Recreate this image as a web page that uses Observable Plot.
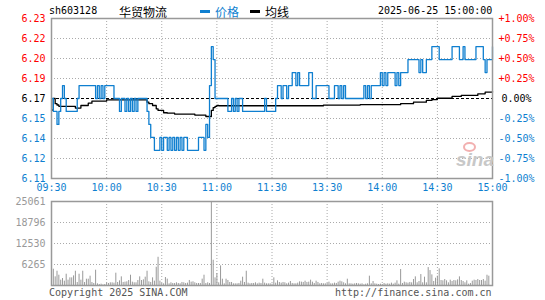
<!DOCTYPE html>
<html>
<head>
<meta charset="utf-8">
<script src="https://cdn.jsdelivr.net/npm/d3@7"></script>
<script src="https://cdn.jsdelivr.net/npm/@observablehq/plot@0.6"></script>
<style>
  body { margin: 0; background: #fff; }
  #wrap { position: relative; width: 545px; height: 300px; font-family: "DejaVu Sans Mono", monospace; font-size: 10px; }
  .abs { position: absolute; white-space: pre; line-height: 12px; }
</style>
</head>
<body>
<div id="wrap">
  <div class="abs" style="left:49px;top:5px;color:#000">sh603128</div>
  <div class="abs" style="left:119px;top:5px;color:#000;font-family:'Noto Sans CJK SC';font-size:12px;line-height:13px">华贸物流</div>
  <div class="abs" style="left:200px;top:10px;width:10px;height:3px;background:#0f7fd0"></div>
  <div class="abs" style="left:215px;top:5px;color:#0f7fd0;font-family:'Noto Sans CJK SC';font-size:12px;line-height:13px">价格</div>
  <div class="abs" style="left:250px;top:10px;width:10px;height:3px;background:#000"></div>
  <div class="abs" style="left:265px;top:5px;color:#000;font-family:'Noto Sans CJK SC';font-size:12px;line-height:13px">均线</div>
  <div class="abs" style="left:378px;top:5px;color:#000">2025-06-25 15:00:00</div>
  <div id="price" class="abs" style="left:0;top:0"></div>
  <div id="vol" class="abs" style="left:0;top:190px"></div>
  <div class="abs" style="left:463px;top:142px;width:9px;height:6px;border-radius:50%;border:2px solid #f2b0b0"></div>
  <div class="abs" style="left:456px;top:150px;color:#c8c8c8;font-family:'Liberation Sans';font-weight:bold;font-style:italic;font-size:19px;line-height:20px">sina</div>
  <div class="abs" style="left:49px;top:287px;color:#555">Copyright 2025 SINA.COM</div>
  <div class="abs" style="left:335px;top:287px;color:#555">http://finance.sina.com.cn</div>
</div>
<script>
const prevClose = 6.17;
const timeTicks = [0, 30, 60, 90, 120, 150, 180, 210, 240];
const timeLabels = ["09:30", "10:00", "10:30", "11:00", "11:30", "13:30", "14:00", "14:30", "15:00"];
const pctTicks = [-1, -0.75, -0.5, -0.25, 0, 0.25, 0.5, 0.75, 1];
const priceLabels = ["6.11", "6.12", "6.14", "6.15", "6.17", "6.19", "6.20", "6.22", "6.23"];
const pctLabels = ["-1.00%", "-0.75%", "-0.50%", "-0.25%", "0.00%", "+0.25%", "+0.50%", "+0.75%", "+1.00%"];
const volTicks = [6265.25, 12530.5, 18795.75, 25061];
const volLabels = ["6265", "12530", "18796", "25061"];

// price per minute (0 = 09:30 ... 240 = 15:00)
const price = [
  6.17,6.16,6.16,6.15,6.16,6.17,6.18,6.17,6.16,6.16,
  6.16,6.16,6.16,6.16,6.17,6.18,6.18,6.18,6.18,6.18,
  6.18,6.18,6.18,6.18,6.17,6.18,6.17,6.18,6.17,6.18,
  6.18,6.18,6.18,6.18,6.17,6.17,6.17,6.16,6.17,6.17,
  6.16,6.17,6.16,6.17,6.16,6.17,6.16,6.17,6.17,6.17,
  6.17,6.17,6.16,6.15,6.14,6.14,6.13,6.13,6.13,6.14,
  6.13,6.14,6.14,6.13,6.14,6.13,6.14,6.13,6.14,6.13,
  6.14,6.13,6.14,6.14,6.13,6.13,6.13,6.13,6.13,6.13,
  6.14,6.14,6.14,6.13,6.15,6.14,6.18,6.21,6.20,6.17,
  6.17,6.17,6.17,6.17,6.17,6.17,6.16,6.16,6.17,6.16,
  6.17,6.16,6.17,6.17,6.16,6.16,6.16,6.16,6.16,6.16,
  6.16,6.16,6.16,6.16,6.16,6.16,6.17,6.16,6.16,6.16,
  6.16,6.16,6.17,6.18,6.18,6.17,6.18,6.18,6.17,6.18,
  6.18,6.19,6.19,6.18,6.19,6.18,6.18,6.18,6.18,6.18,
  6.19,6.19,6.17,6.17,6.18,6.18,6.18,6.18,6.18,6.18,
  6.18,6.17,6.17,6.17,6.18,6.18,6.17,6.18,6.17,6.18,
  6.17,6.17,6.17,6.17,6.17,6.17,6.17,6.17,6.17,6.17,
  6.18,6.17,6.18,6.17,6.18,6.18,6.18,6.18,6.18,6.19,
  6.18,6.19,6.18,6.19,6.19,6.19,6.19,6.18,6.19,6.18,
  6.19,6.19,6.19,6.19,6.20,6.20,6.20,6.20,6.20,6.20,
  6.19,6.20,6.19,6.19,6.20,6.20,6.20,6.21,6.21,6.21,
  6.21,6.20,6.20,6.20,6.20,6.20,6.20,6.20,6.21,6.21,
  6.21,6.21,6.20,6.20,6.21,6.20,6.20,6.20,6.20,6.20,
  6.20,6.21,6.21,6.21,6.21,6.20,6.19,6.20,6.20,6.20,
  6.21
];

// average price line: [minute, value]
const avgLine = [
  [0,6.161],[1,6.170],[2,6.166],[3,6.165],[4,6.164],[12,6.164],[13,6.1626],[15,6.1626],
  [16,6.1646],[19,6.1646],[20,6.1664],[21,6.1664],[22,6.168],[29,6.168],[30,6.169],[51,6.169],
  [52,6.1672],[53,6.166],[55,6.1646],[57,6.162],[58,6.1608],[61,6.159],[63,6.1587],[67,6.158],
  [77,6.158],[78,6.1572],[83,6.1572],[84,6.1561],[86,6.1561],[87,6.1608],[88,6.163],[89,6.164],
  [90,6.1646],[91,6.1644],[147,6.1644],[148,6.1649],[168,6.1652],[190,6.166],[197,6.1672],
  [204,6.1685],[207,6.1692],[210,6.1702],[218,6.1716],[223,6.1724],[232,6.1736],[236,6.1749],[240,6.1754]
];

// volume per minute
const volume = [
  1290,4860,2580,4260,3070,1590,2080,1290,3370,1590,
  2280,2280,2870,4260,890,3370,1590,4260,890,1880,
  1880,2780,890,600,4560,500,300,400,200,300,
  700,600,800,800,700,3670,900,1390,2580,900,
  1000,1100,1490,3070,1000,800,800,1490,2580,1490,
  1690,2480,4260,1100,900,2280,1300,5450,8420,1300,
  600,500,2380,1900,500,800,600,600,800,600,
  500,900,800,600,700,1500,1000,1100,800,600,
  600,600,1900,3070,600,800,600,25061,7530,2280,
  3570,800,5850,1880,500,1880,1490,900,900,500,
  500,500,600,1290,2480,900,4260,700,500,600,
  600,800,500,700,600,1880,700,500,500,500,
  400,2280,700,1390,900,700,900,800,500,700,
  1190,600,500,500,700,1090,1000,900,1290,900,
  1000,1590,1000,600,1290,900,500,600,500,500,
  600,1000,500,500,700,600,1000,1290,1090,800,
  500,1880,500,500,400,500,600,500,400,500,
  200,400,500,2780,500,1190,500,400,300,400,
  300,600,400,500,400,700,400,700,1390,400,
  4760,600,1000,800,700,900,800,1780,2580,800,
  1190,3270,800,2480,800,5350,4460,3170,1190,2180,
  2780,4960,1490,1390,1780,1390,800,1590,1190,1490,
  1390,1680,2580,1490,1190,800,1390,400,600,1290,
  1590,1490,1780,1490,1490,1780,1290,3070,2780,0,
  0
];

const RED = "#ff0000", BLUE = "#0f7fd0", GRID = "#aaaaaa", FRAME = "#999999";
const pct = p => (p / prevClose - 1) * 100;
const priceData = price.map((p, i) => ({m: i, y: pct(p)}));
const avgData = avgLine.map(([m, p]) => ({m, y: pct(p)}));
const tickRows = pctTicks.map((k, i) => ({k, price: priceLabels[i], pct: pctLabels[i]}));
const timeRows = timeTicks.map((m, i) => ({m, label: timeLabels[i]}));
const innerMin = timeTicks.slice(1, -1);
const innerPct = pctTicks.filter(k => k !== 0 && Math.abs(k) !== 1);
const colorOf = k => k > 0 ? RED : (k < 0 ? BLUE : "#000");

const font = {fontFamily: "DejaVu Sans Mono, monospace", fontSize: 10};

const pricePlot = Plot.plot({
  width: 545, height: 192,
  marginLeft: 51, marginRight: 53, marginTop: 18, marginBottom: 14,
  x: {domain: [0, 240], axis: null},
  y: {domain: [-1, 1], axis: null},
  style: {background: "transparent", fontFamily: "DejaVu Sans Mono, monospace", fontSize: "10px"},
  marks: [
    Plot.ruleY(innerPct, {stroke: GRID, strokeDasharray: "1,2"}),
    Plot.ruleX(innerMin, {stroke: GRID, strokeDasharray: "1,2"}),
    Plot.ruleY([0], {stroke: "#000", strokeDasharray: "3,2"}),
    Plot.line(avgData, {x: "m", y: "y", stroke: "#000", strokeWidth: 1.3, curve: "step-after"}),
    Plot.line(priceData, {x: "m", y: "y", stroke: BLUE, strokeWidth: 1.3, curve: "step-after"}),
    Plot.frame({stroke: FRAME, strokeWidth: 1.5}),
    ...[RED, "#000", BLUE].map(c => Plot.text(tickRows.filter(d => colorOf(d.k) === c), {
      y: "k", text: "price", frameAnchor: "left", dx: -6, textAnchor: "end", fill: c, ...font
    })),
    ...[RED, "#000", BLUE].map(c => Plot.text(tickRows.filter(d => colorOf(d.k) === c), {
      y: "k", text: "pct", frameAnchor: "right", dx: c === "#000" ? 9 : 6, textAnchor: "start", fill: c, ...font
    })),
    Plot.text(timeRows, {x: "m", text: "label", frameAnchor: "bottom", dy: 9, lineAnchor: "middle", fill: BLUE, ...font})
  ]
});
document.getElementById("price").appendChild(pricePlot);

const volRows = volume.map((v, i) => ({m: i, v}));
const volTickRows = volTicks.map((v, i) => ({v, label: volLabels[i]}));
const volPlot = Plot.plot({
  width: 545, height: 100,
  marginLeft: 51, marginRight: 53, marginTop: 11, marginBottom: 5,
  x: {domain: [0, 240], axis: null},
  y: {domain: [0, 25061], axis: null},
  style: {background: "transparent", fontFamily: "DejaVu Sans Mono, monospace", fontSize: "10px"},
  marks: [
    Plot.ruleY(volTicks.slice(0, 3), {stroke: GRID, strokeDasharray: "1,2"}),
    Plot.ruleX(innerMin, {stroke: GRID, strokeDasharray: "1,2"}),
    Plot.ruleX(volRows.filter(d => d.v > 0), {x: "m", y1: 0, y2: "v", stroke: "#999", strokeWidth: 1}),
    Plot.frame({stroke: FRAME, strokeWidth: 1.5}),
    Plot.text(volTickRows, {y: "v", text: "label", frameAnchor: "left", dx: -6, textAnchor: "end", fill: "#999", ...font})
  ]
});
document.getElementById("vol").appendChild(volPlot);
</script>
</body>
</html>
